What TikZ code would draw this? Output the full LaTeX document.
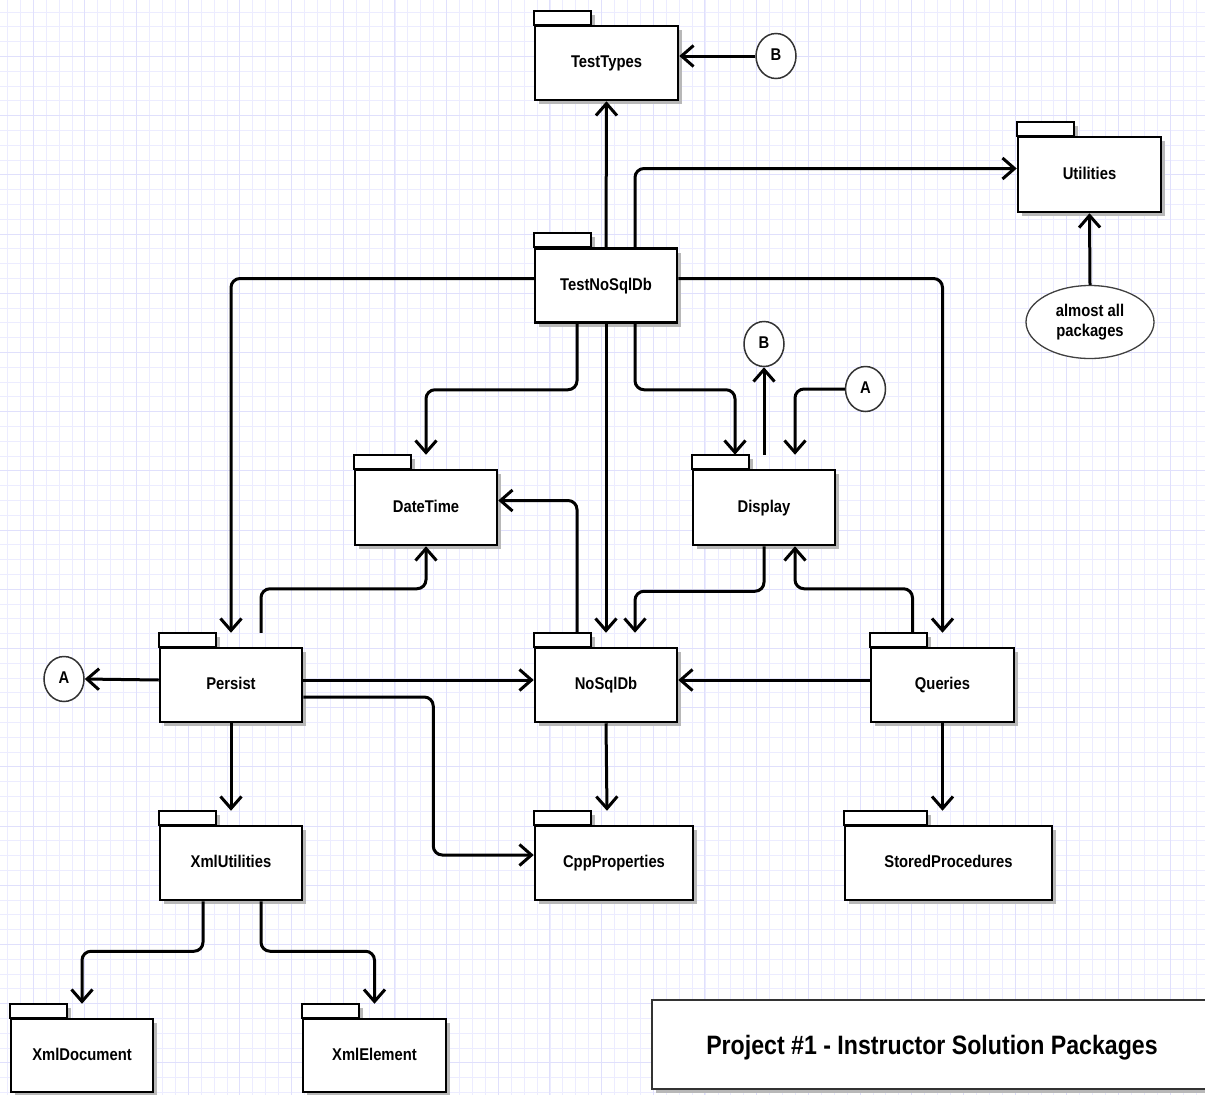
\documentclass[tikz,border=0pt]{standalone}
\usepackage{fontspec}
\setmainfont[FakeStretch=0.87]{Liberation Sans}
\usetikzlibrary{arrows.meta,shapes.geometric,shadows}
\pgfdeclarelayer{background}
\pgfsetlayers{background,main}
\definecolor{gridminor}{RGB}{236,236,255}
\definecolor{gridmajor}{RGB}{224,224,252}
\begin{document}
\begin{tikzpicture}[x=1pt,y=-1pt,>={Straight Barb[length=12pt,width=21pt]},
  every node/.style={font=\fontsize{17}{20}\selectfont\bfseries,text height=12pt,text depth=3pt,inner sep=0pt},
  pkg/.style={draw,rectangle,line width=2.5pt,fill=white,minimum width=142pt,minimum height=74pt,
    drop shadow={shadow xshift=4pt,shadow yshift=-4pt,fill=black!28,opacity=1}},
  tab/.style={draw,line width=2.2pt,fill=white,
    drop shadow={shadow xshift=4pt,shadow yshift=-4pt,fill=black!28,opacity=1}},
  conn/.style={draw=black!80,ellipse,line width=1.5pt,fill=white,minimum width=40pt,minimum height=45pt},
  note/.style={draw=black!75,ellipse,line width=1.3pt,fill=white,minimum width=128pt,minimum height=73pt,align=center,text height=,text depth=},
  link/.style={->,line width=3pt,rounded corners=9pt},
  titlebox/.style={draw=black!80,line width=2pt,fill=white,rectangle,minimum width=563pt,minimum height=89pt,
    drop shadow={shadow xshift=4pt,shadow yshift=-4pt,fill=black!28,opacity=1}},
  titletext/.style={font=\fontsize{26.6}{30}\selectfont\bfseries,text height=19pt,text depth=0pt}]
\useasboundingbox (0,0) rectangle (1205,1095);
\clip (0,0) rectangle (1205,1095);
\begin{pgfonlayer}{background}
\fill[white] (0,0) rectangle (1205,1095);
\foreach \i in {0,...,93} \draw[gridminor,line width=0.8pt] ({7.3+12.92*\i},0) -- ++(0,1095);
\foreach \j in {0,...,74} \draw[gridminor,line width=0.8pt] (0,{12+14.8*\j}) -- ++(1205,0);
\foreach \i in {0,...,23} \draw[gridmajor,line width=0.9pt] ({33.1+51.68*\i},0) -- ++(0,1095);
\foreach \j in {0,...,18} \draw[gridmajor,line width=0.9pt] (0,{56.4+59.2*\j}) -- ++(1205,0);
\end{pgfonlayer}

\node[pkg,minimum width=143pt] (testtypes) at (606.5,63) {TestTypes};
\node[pkg] (tnsd) at (606,285.5) {TestNoSqlDb};
\node[pkg,minimum width=143pt,minimum height=75pt] (utilities) at (1089.5,174.5) {Utilities};
\node[pkg,minimum height=75pt] (datetime) at (426,507.5) {DateTime};
\node[pkg,minimum height=75pt] (display) at (764,507.5) {Display};
\node[pkg] (persist) at (231,685) {Persist};
\node[pkg] (nosqldb) at (606,685) {NoSqlDb};
\node[pkg,minimum width=143pt] (queries) at (942.5,685) {Queries};
\node[pkg] (xmlutil) at (231,863) {XmlUtilities};
\node[pkg,minimum width=158pt] (cpp) at (614,863) {CppProperties};
\node[pkg,minimum width=207pt] (stored) at (948.5,863) {StoredProcedures};
\node[pkg,minimum height=73pt] (xmldoc) at (82,1055.5) {XmlDocument};
\node[pkg,minimum width=143pt,minimum height=73pt] (xmlel) at (374.5,1055.5) {XmlElement};

\begin{pgfonlayer}{background}
\foreach \p in {testtypes,tnsd,utilities,datetime,display,persist,nosqldb,queries,xmlutil,cpp,xmldoc,xmlel}
  \draw[tab] (\p.north west) rectangle ++(57,-14);
\draw[tab] (stored.north west) rectangle ++(83,-14);
\end{pgfonlayer}

\node[conn] (btypes) at (776,56) {B};
\node[conn] (bdisp) at (764,344) {B};
\node[conn] (adisp) at (865.5,389) {A};
\node[conn] (apers) at (64,679) {A};
\node[note] (note) at (1090,322) {almost all\\packages};

\node[titlebox] (titlebox) at (933.5,1044.5) {};
\node[titletext] (title) at (932,1045) {Project \#1 - Instructor Solution Packages};

\draw[link] (btypes.west) -- ([yshift=7pt]testtypes.east);
\draw[link] (tnsd.north) -- (testtypes.south);
\draw[link] ([xshift=29pt]tnsd.north) |- ([yshift=6pt]utilities.west);
\draw[link] (note.north) -- (utilities.south);
\draw[link] ([yshift=7pt]tnsd.west) -| ([yshift=14pt]persist.north);
\draw[link] ([yshift=7pt]tnsd.east) -| ([yshift=14pt]queries.north);
\draw[link] ([xshift=-29pt]tnsd.south) -- ++(0,66) -| ([yshift=14pt]datetime.north);
\draw[link] (tnsd.south) -- ([yshift=14pt]nosqldb.north);
\draw[link] ([xshift=29pt]tnsd.south) -- ++(0,66) -| ([xshift=-29pt,yshift=14pt]display.north);
\draw[link] ([yshift=14pt]display.north) -- (bdisp.south);
\draw[link] (adisp.west) -| ([xshift=31pt,yshift=14pt]display.north);
\draw[link] (display.south) -- ++(0,45) -| ([xshift=29pt,yshift=14pt]nosqldb.north);
\draw[link] ([xshift=-30pt,yshift=14pt]queries.north) -- ++(0,-44) -| ([xshift=31pt]display.south);
\draw[link] ([xshift=-29pt,yshift=14pt]nosqldb.north) |- ([yshift=7pt]datetime.east);
\draw[link] ([xshift=30pt,yshift=14pt]persist.north) -- ++(0,-44) -| (datetime.south);
\draw[link] ([yshift=5pt]persist.west) -- (apers.east);
\draw[link] ([yshift=5pt]persist.east) -- ([yshift=5pt]nosqldb.west);
\draw[link] ([yshift=-12pt]persist.east) -- ++(130,0) |- ([yshift=8pt]cpp.west);
\draw[link] ([yshift=5pt]queries.west) -- ([yshift=5pt]nosqldb.east);
\draw[link] (persist.south) -- ([yshift=14pt]xmlutil.north);
\draw[link] (nosqldb.south) -- ([xshift=-7pt,yshift=14pt]cpp.north);
\draw[link] (queries.south) -- ([xshift=-6pt,yshift=14pt]stored.north);
\draw[link] ([xshift=-28pt]xmlutil.south) -- ++(0,50) -| ([yshift=14pt]xmldoc.north);
\draw[link] ([xshift=30pt]xmlutil.south) -- ++(0,50) -| ([yshift=14pt]xmlel.north);
\end{tikzpicture}
\end{document}
